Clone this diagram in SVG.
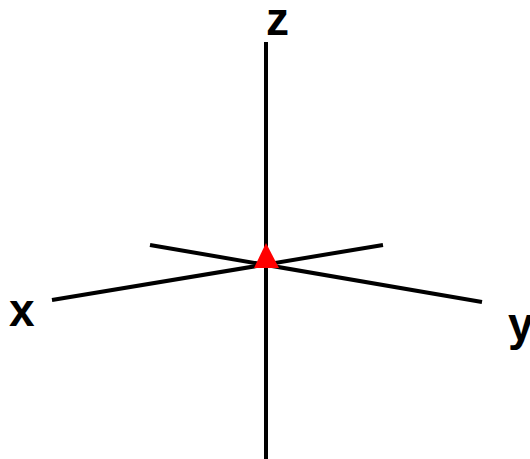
<svg xmlns="http://www.w3.org/2000/svg" width="530" height="459" viewBox="0 0 530 459">
<style>
.axis{stroke:#000;stroke-width:4;fill:none}
.lbl{font-family:"Liberation Sans",Arial,sans-serif;font-weight:bold;font-size:46px;fill:#000}
</style>
<rect width="530" height="459" fill="#fff"/>
<g id="connectors">
<line class="axis" x1="266" y1="42" x2="266" y2="459"/>
<line class="axis" x1="52" y1="300" x2="383" y2="245"/>
<line class="axis" x1="150" y1="245" x2="482" y2="302"/>
</g>
<g id="origin"><polygon points="266,243 254,268 279,268" fill="#f00"/></g>
<g id="label-x"><text class="lbl" x="9" y="326">x</text></g>
<g id="label-y"><text class="lbl" x="508" y="340">y</text></g>
<g id="label-z"><text class="lbl" x="266" y="35">z</text></g>
</svg>
